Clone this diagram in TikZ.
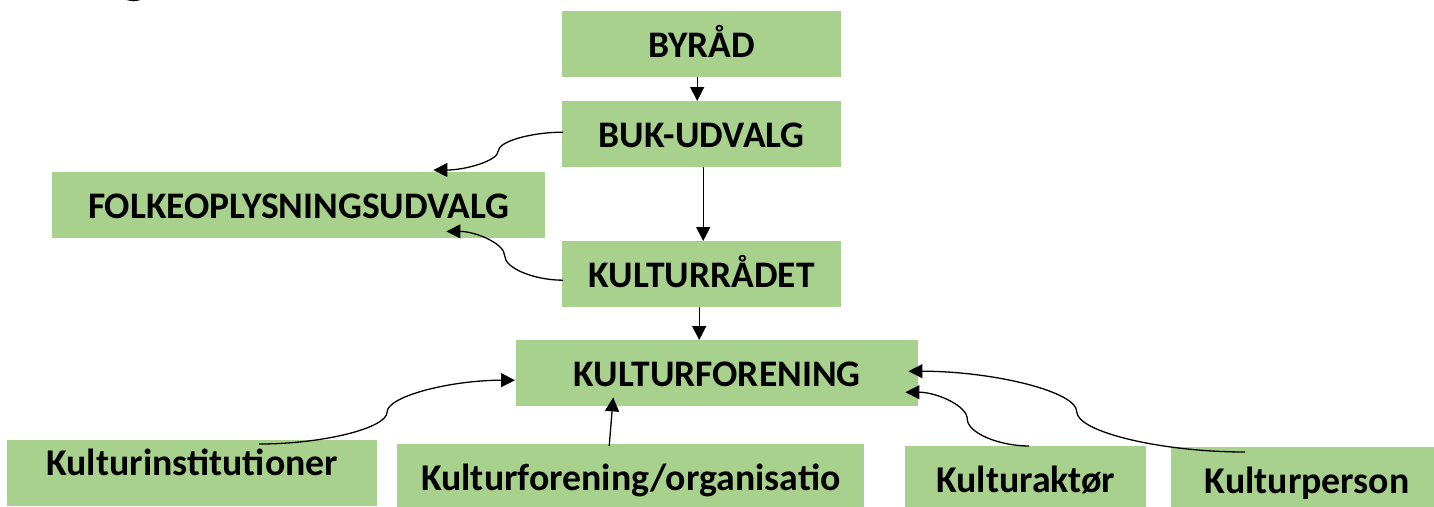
\documentclass[tikz,border=0pt]{standalone}
\usepackage{fontspec}
\setmainfont{Carlito}
\usetikzlibrary{arrows.meta,calc}
\definecolor{boxgreen}{RGB}{169,209,142}
\begin{document}
\begin{tikzpicture}[x=1pt,y=-1pt,
  box/.style={fill=boxgreen, draw=none, minimum height=66pt, inner sep=0pt,
    anchor=north west, text height=30pt, text depth=4pt,
    font=\bfseries\fontsize{37.5}{40}\selectfont},
  lowbox/.style={box, font=\bfseries\fontsize{37.8}{40}\selectfont},
  conn/.style={draw=black, line width=1.3pt, -{Triangle[length=14pt,width=14pt]}},
  sconn/.style={to path={let \p1=(\tikztostart), \p2=(\tikztotarget) in
    .. controls ({0.75*\x1+0.25*\x2},\y1) and ({0.5*\x1+0.5*\x2},{0.75*\y1+0.25*\y2})
    .. ({0.5*\x1+0.5*\x2},{0.5*\y1+0.5*\y2})
    .. controls ({0.5*\x1+0.5*\x2},{0.25*\y1+0.75*\y2}) and ({0.25*\x1+0.75*\x2},\y2)
    .. (\p2) \tikztonodes}},
]
\useasboundingbox (0,0) rectangle (1434,506);

% cut-off title fragment
\node[anchor=base, inner sep=0pt, font=\bfseries\fontsize{60}{60}\selectfont] (title) at (135,-8.5) {g};

\node[box, minimum width=279pt] (byrad) at (562,11) {BYRÅD};
\node[box, minimum width=279pt] (buk) at (562,101) {BUK-UDVALG};
\node[box, minimum width=493pt] (folk) at (52,172) {FOLKEOPLYSNINGSUDVALG};
\node[box, minimum width=279pt] (kr) at (562,241) {KULTURRÅDET};
\node[box, minimum width=402pt] (kf) at (516,340) {KULTURFORENING};
\node[lowbox, minimum width=370pt, text depth=26pt] (kinst) at (7,440) {Kulturinstitutioner};
\node[lowbox, minimum width=467pt] (kfo) at (397,444) {Kulturforening/organisatio};
\node[lowbox, minimum width=241pt] (kak) at (905,446) {Kulturaktør};
\node[lowbox, minimum width=272pt] (kp) at (1171,447) {Kulturperson};

% straight connectors
\coordinate (a1s) at ($(byrad.south)+(-4.5,0)$);
\coordinate (a2s) at ($(buk.south)+(1.5,0)$);
\coordinate (a3s) at ($(kr.south)+(-2.5,0)$);
\draw[conn] (a1s) -- (a1s |- buk.north);
\draw[conn] (a2s) -- (a2s |- kr.north);
\draw[conn] (a3s) -- (a3s |- kf.north);
\coordinate (a4s) at ($(kfo.north)+(-21.5,2)$);
\coordinate (a4e) at ($(kf.south)+(-104,-9)$);
\draw[conn] (a4s) -- (a4e);

% curved connectors
\coordinate (a5s) at ($(buk.west)+(1,-2)$);
\coordinate (a5e) at ($(folk.north east)+(-112,-2)$);
\coordinate (a6s) at ($(kr.west)+(1,6)$);
\coordinate (a6e) at ($(folk.south east)+(-99,-7)$);
\coordinate (a7s) at ($(kinst.north)+(67,4)$);
\coordinate (a7e) at ($(kf.west)+(-1,7)$);
\coordinate (a8s) at ($(kak.north)+(3.5,0)$);
\coordinate (a8e) at ($(kf.east)+(-13,19)$);
\coordinate (a9s) at ($(kp.north west)+(74,5)$);
\coordinate (a9e) at ($(kf.east)+(-10,-2)$);
\draw[conn] (a5s) to[sconn] (a5e);
\draw[conn] (a6s) to[sconn] (a6e);
\draw[conn] (a7s) to[sconn] (a7e);
\draw[conn] (a8s) to[sconn] (a8e);
\draw[conn] (a9s) to[sconn] (a9e);
\end{tikzpicture}
\end{document}
